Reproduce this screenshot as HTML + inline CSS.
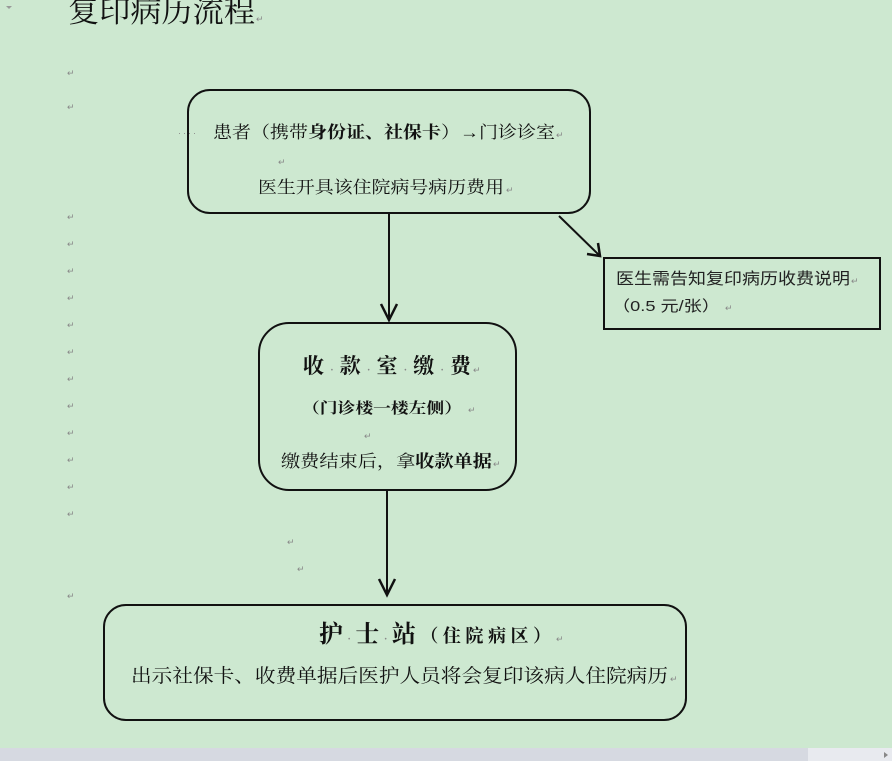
<!DOCTYPE html>
<html><head><meta charset="utf-8"><style>
html,body{margin:0;padding:0;width:892px;height:761px;overflow:hidden;background:#cde8d0}
svg{display:block}
.s{font-family:"Liberation Serif","Noto Serif CJK SC",serif;fill:#111}
.a{font-family:"Liberation Sans","Noto Sans CJK SC",sans-serif;fill:#222}
.p{font-family:"Liberation Sans",sans-serif;fill:#888;font-size:9px}
</style></head><body>
<svg width="892" height="761" viewBox="0 0 892 761" xmlns="http://www.w3.org/2000/svg">
<rect width="892" height="761" fill="#cde8d0"/>
<polygon points="6,6 12,6 9,9" fill="#999"/>
<text class="s" x="68" y="22" font-size="30" textLength="187" lengthAdjust="spacingAndGlyphs">复印病历流程</text>
<text class="p" x="256" y="22">↵</text>
<g class="p">
<text x="67" y="76">↵</text><text x="67" y="110">↵</text>
<text x="67" y="220">↵</text><text x="67" y="247">↵</text><text x="67" y="274">↵</text>
<text x="67" y="301">↵</text><text x="67" y="328">↵</text><text x="67" y="355">↵</text>
<text x="67" y="382">↵</text><text x="67" y="409">↵</text><text x="67" y="436">↵</text>
<text x="67" y="463">↵</text><text x="67" y="490">↵</text><text x="67" y="517">↵</text>
<text x="287" y="545">↵</text><text x="297" y="572">↵</text><text x="67" y="599">↵</text>
</g>
<g fill="none" stroke="#111" stroke-width="2">
<rect x="188" y="90" width="402" height="123" rx="22"/>
<rect x="604" y="258" width="276" height="71"/>
<rect x="259" y="323" width="257" height="167" rx="30"/>
<rect x="104" y="605" width="582" height="115" rx="22"/>
<line x1="389" y1="214" x2="389" y2="320"/>
<polyline points="381,304 389,320 397,304" stroke-width="2.5"/>
<line x1="559" y1="216" x2="600" y2="256"/>
<polyline points="587,254 600,256 598,243" stroke-width="2.5"/>
<line x1="387" y1="491" x2="387" y2="595"/>
<polyline points="379,579 387,595 395,579" stroke-width="2.5"/>
</g>
<text class="p" x="178" y="136" font-size="12" letter-spacing="2">····</text>
<text class="s" x="213" y="138" font-size="17" textLength="342" lengthAdjust="spacingAndGlyphs">患者（携带<tspan font-weight="bold">身份证、社保卡</tspan>）→门诊诊室</text>
<text class="p" x="556" y="138">↵</text>
<text class="p" x="278" y="165">↵</text>
<text class="s" x="258" y="193" font-size="17" textLength="246" lengthAdjust="spacingAndGlyphs">医生开具该住院病号病历费用</text>
<text class="p" x="506" y="193">↵</text>
<text class="a" x="616" y="284" font-size="16" textLength="234" lengthAdjust="spacingAndGlyphs">医生需告知复印病历收费说明</text>
<text class="p" x="851" y="284">↵</text>
<text class="a" x="612" y="311" font-size="15" textLength="108" lengthAdjust="spacingAndGlyphs">（0.5 元/张）</text>
<text class="p" x="725" y="311">↵</text>
<text class="s" x="303" y="373" font-size="21" font-weight="bold" textLength="168" lengthAdjust="spacing">收<tspan fill="#888" font-size="10">·</tspan>款<tspan fill="#888" font-size="10">·</tspan>室<tspan fill="#888" font-size="10">·</tspan>缴<tspan fill="#888" font-size="10">·</tspan>费</text>
<text class="p" x="473" y="373">↵</text>
<text class="s" x="302" y="413" font-size="15" font-weight="bold" textLength="160" lengthAdjust="spacingAndGlyphs">（门诊楼一楼左侧）</text>
<text class="p" x="468" y="413">↵</text>
<text class="p" x="364" y="439">↵</text>
<text class="s" x="281" y="467" font-size="17" textLength="211" lengthAdjust="spacingAndGlyphs">缴费结束后，拿<tspan font-weight="bold">收款单据</tspan></text>
<text class="p" x="493" y="467">↵</text>
<text class="s" x="319" y="642" font-size="24" font-weight="bold" textLength="232" lengthAdjust="spacing">护<tspan fill="#888" font-size="10">·</tspan>士<tspan fill="#888" font-size="10">·</tspan>站<tspan font-size="18">（住院病区）</tspan></text>
<text class="p" x="556" y="642">↵</text>
<text class="s" x="131" y="682" font-size="19" textLength="537" lengthAdjust="spacingAndGlyphs">出示社保卡、收费单据后医护人员将会复印该病人住院病历</text>
<text class="p" x="670" y="682">↵</text>
<rect x="0" y="748" width="892" height="13" fill="#e8eaef"/>
<rect x="0" y="748" width="808" height="13" fill="#d6d9e1"/>
<polygon points="884,752 888,755 884,758" fill="#888"/>
</svg>
</body></html>
